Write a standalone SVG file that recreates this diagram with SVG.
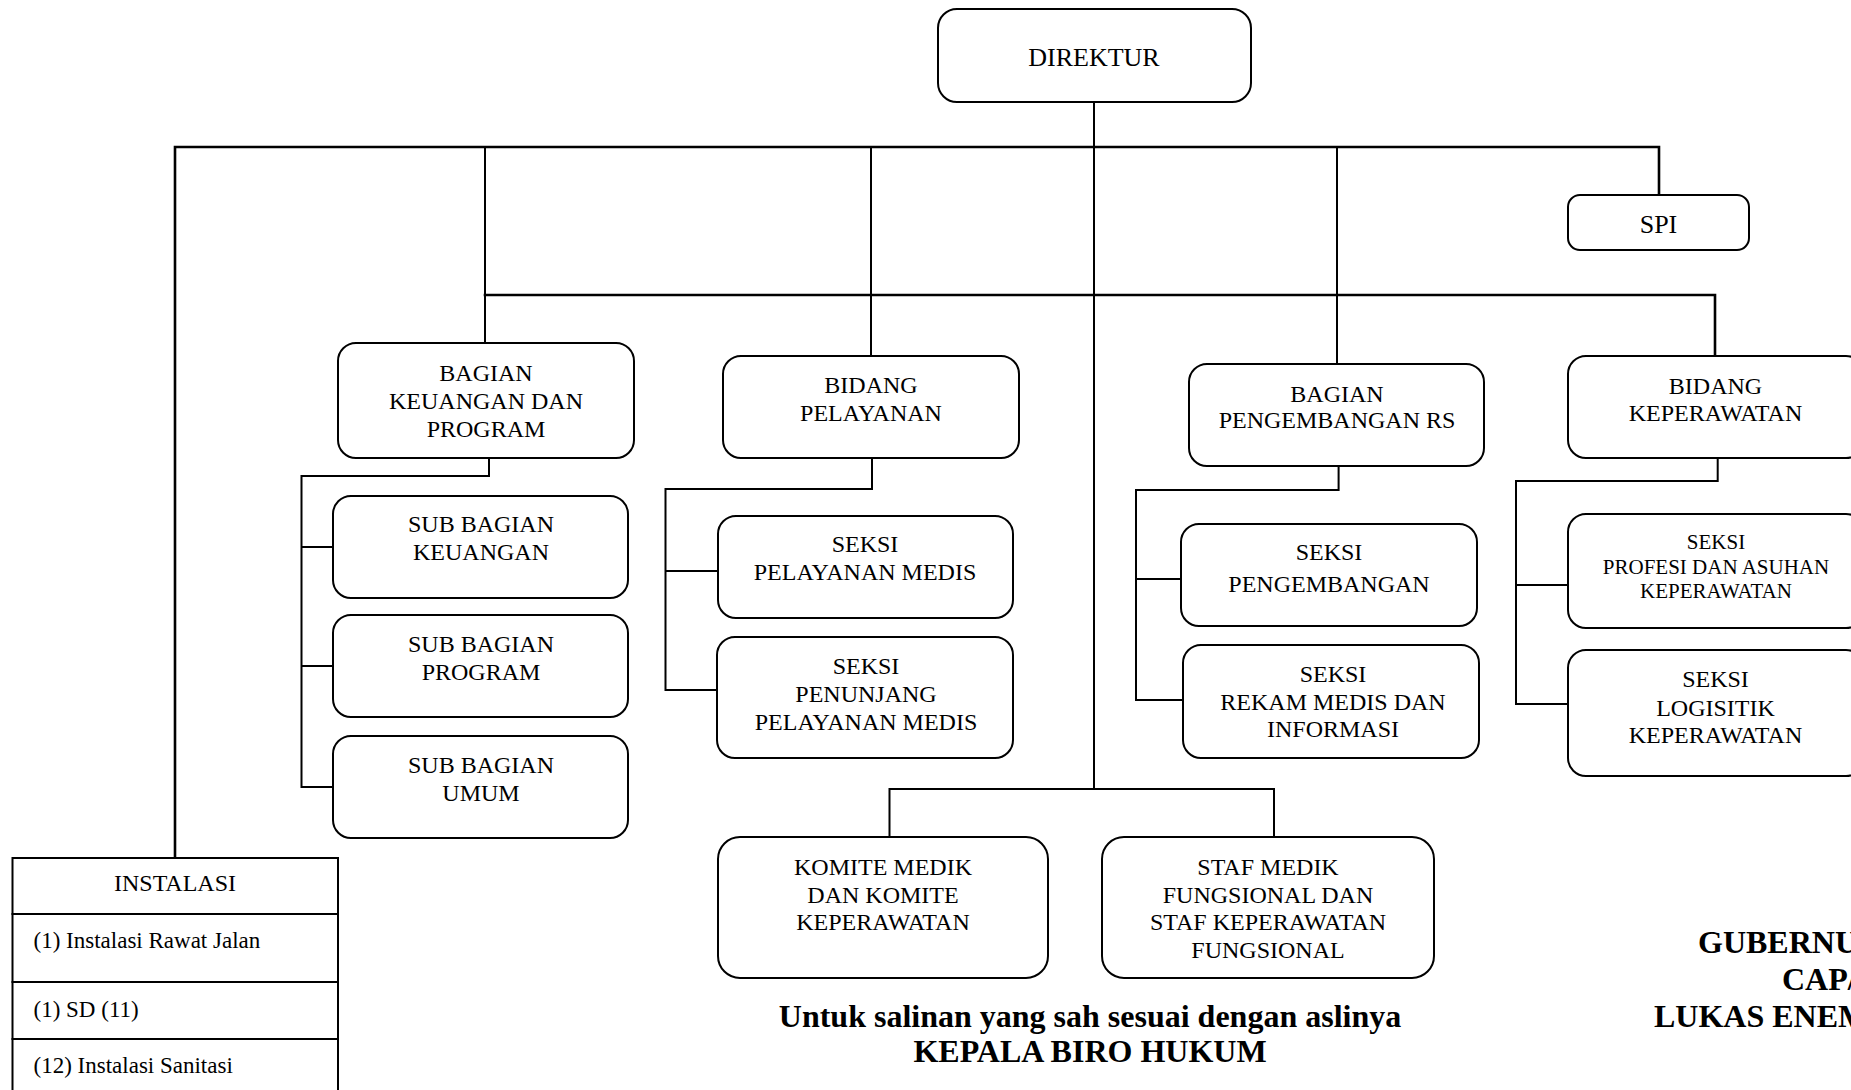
<svg xmlns="http://www.w3.org/2000/svg" width="1851" height="1090" viewBox="0 0 1851 1090">
<style>
.bx{fill:#fff;stroke:#000;stroke-width:2}
.ln{fill:none;stroke:#000;stroke-width:2;stroke-linecap:square}
.thk{stroke-width:2.6}
text{font-family:"Liberation Serif","Times New Roman",serif;fill:#000}
.t{font-size:24px;text-anchor:middle}
.t26{font-size:26px;text-anchor:middle}
.t21{font-size:21px;text-anchor:middle}
.row{font-size:23px}
.b{font-size:32px;font-weight:bold}
</style>
<rect width="1851" height="1090" fill="#fff"/>
<g id="connectors">
<path class="ln thk" d="M175,858 V147 H1659 V195"/>
<path class="ln" d="M1094,102 V787"/>
<path class="ln" d="M485,147 V343"/>
<path class="ln" d="M871,147 V356"/>
<path class="ln" d="M1337,147 V364"/>
<path class="ln thk" d="M485,295 H1715 V356"/>
<path class="ln" d="M489,458 V476 H301.5 V787 H333 M301.5,547 H333 M301.5,666 H333"/>
<path class="ln" d="M872,458 V489 H665.5 V690 H717 M665.5,571 H718"/>
<path class="ln" d="M1338.6,466 V490 H1136 V700 H1183 M1136,579 H1181"/>
<path class="ln" d="M1717.7,458 V481 H1516 V704 H1567 M1516,585 H1567"/>
<path class="ln" d="M889.5,837 V789 H1274 V837"/>
</g>
<g id="direktur"><rect class="bx" x="938" y="9" width="313" height="93" rx="19"/><text class="t26" x="1094" y="66">DIREKTUR</text></g>
<g id="spi"><rect class="bx" x="1568" y="195" width="181" height="55" rx="12"/><text class="t26" x="1658.5" y="233">SPI</text></g>
<g id="bagian-keuangan"><rect class="bx" x="338" y="343" width="296" height="115" rx="18"/><text class="t" x="486" y="381">BAGIAN</text><text class="t" x="486" y="409">KEUANGAN DAN</text><text class="t" x="486" y="437">PROGRAM</text></g>
<g id="bidang-pelayanan"><rect class="bx" x="723" y="356" width="296" height="102" rx="18"/><text class="t" x="871" y="393">BIDANG</text><text class="t" x="871" y="421">PELAYANAN</text></g>
<g id="bagian-pengembangan"><rect class="bx" x="1189" y="364" width="295" height="102" rx="18"/><text class="t" x="1337" y="402">BAGIAN</text><text class="t" x="1337" y="428">PENGEMBANGAN RS</text></g>
<g id="bidang-keperawatan"><rect class="bx" x="1568" y="356" width="296" height="102" rx="18"/><text class="t" x="1715.5" y="394">BIDANG</text><text class="t" x="1715.5" y="421">KEPERAWATAN</text></g>
<g id="sub-keuangan"><rect class="bx" x="333" y="496" width="295" height="102" rx="18"/><text class="t" x="481" y="532">SUB BAGIAN</text><text class="t" x="481" y="560">KEUANGAN</text></g>
<g id="sub-program"><rect class="bx" x="333" y="615" width="295" height="102" rx="18"/><text class="t" x="481" y="652">SUB BAGIAN</text><text class="t" x="481" y="680">PROGRAM</text></g>
<g id="sub-umum"><rect class="bx" x="333" y="736" width="295" height="102" rx="18"/><text class="t" x="481" y="773">SUB BAGIAN</text><text class="t" x="481" y="801">UMUM</text></g>
<g id="seksi-pelayanan-medis"><rect class="bx" x="718" y="516" width="295" height="102" rx="18"/><text class="t" x="865" y="552">SEKSI</text><text class="t" x="865" y="580">PELAYANAN MEDIS</text></g>
<g id="seksi-penunjang"><rect class="bx" x="717" y="637" width="296" height="121" rx="18"/><text class="t" x="866" y="674">SEKSI</text><text class="t" x="866" y="702">PENUNJANG</text><text class="t" x="866" y="730">PELAYANAN MEDIS</text></g>
<g id="seksi-pengembangan"><rect class="bx" x="1181" y="524" width="296" height="102" rx="18"/><text class="t" x="1329" y="560">SEKSI</text><text class="t" x="1329" y="592">PENGEMBANGAN</text></g>
<g id="seksi-rekam-medis"><rect class="bx" x="1183" y="645" width="296" height="113" rx="18"/><text class="t" x="1333" y="682">SEKSI</text><text class="t" x="1333" y="710">REKAM MEDIS DAN</text><text class="t" x="1333" y="737">INFORMASI</text></g>
<g id="seksi-profesi"><rect class="bx" x="1568" y="514" width="296" height="114" rx="18"/><text class="t21" x="1716" y="549">SEKSI</text><text class="t21" x="1716" y="574">PROFESI DAN ASUHAN</text><text class="t21" x="1716" y="598">KEPERAWATAN</text></g>
<g id="seksi-logistik"><rect class="bx" x="1568" y="650" width="296" height="126" rx="18"/><text class="t" x="1715.5" y="687">SEKSI</text><text class="t" x="1715.5" y="716">LOGISITIK</text><text class="t" x="1715.5" y="743">KEPERAWATAN</text></g>
<g id="komite"><rect class="bx" x="718" y="837" width="330" height="141" rx="22"/><text class="t" x="883" y="875">KOMITE MEDIK</text><text class="t" x="883" y="903">DAN KOMITE</text><text class="t" x="883" y="930">KEPERAWATAN</text></g>
<g id="staf"><rect class="bx" x="1102" y="837" width="332" height="141" rx="22"/><text class="t" x="1268" y="875">STAF MEDIK</text><text class="t" x="1268" y="903">FUNGSIONAL DAN</text><text class="t" x="1268" y="930">STAF KEPERAWATAN</text><text class="t" x="1268" y="958">FUNGSIONAL</text></g>
<g id="instalasi">
<rect class="bx" x="12.5" y="858" width="325.5" height="250"/>
<path class="ln" d="M12.5,914 H338 M12.5,982 H338 M12.5,1039 H338"/>
<text class="t" x="175" y="891">INSTALASI</text>
<text class="row" x="33.5" y="948">(1) Instalasi Rawat Jalan</text>
<text class="row" x="33.5" y="1017">(1) SD (11)</text>
<text class="row" x="33.5" y="1073">(12) Instalasi Sanitasi</text>
</g>
<g id="footer">
<text class="b" x="1090" y="1027" text-anchor="middle">Untuk salinan yang sah sesuai dengan aslinya</text>
<text class="b" x="1090" y="1062" text-anchor="middle">KEPALA BIRO HUKUM</text>
<text class="b" x="1698" y="953">GUBERNU</text>
<text class="b" x="1782" y="990">CAP/</text>
<text class="b" x="1654" y="1027">LUKAS ENEM</text>
</g>
</svg>
